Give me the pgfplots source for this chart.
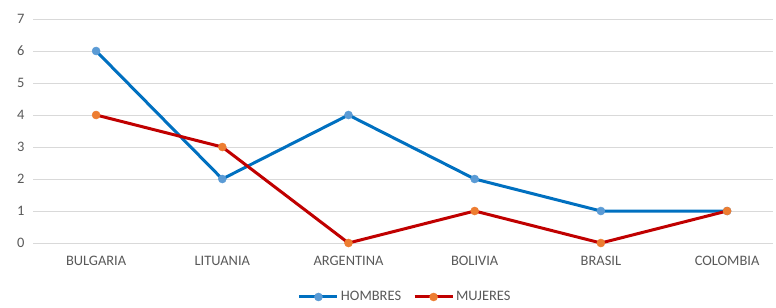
\documentclass[border=0pt]{standalone}
\usepackage{fontspec}
\setmainfont{Carlito}
\usepackage{pgfplots}
\pgfplotsset{compat=1.18}
\definecolor{hline}{HTML}{0070C0}
\definecolor{hmark}{HTML}{5B9BD5}
\definecolor{mline}{HTML}{C00000}
\definecolor{mmark}{HTML}{ED7D31}
\definecolor{txt}{HTML}{595959}
\definecolor{grd}{HTML}{D9D9D9}
\begin{document}
\begin{tikzpicture}[x=1bp,y=1bp]
\path[use as bounding box] (0,0) rectangle (776,307);
\begin{axis}[
  at={(33bp,64bp)}, anchor=south west,
  scale only axis, width=740bp, height=224bp,
  xmin=-0.5, xmax=5.364, ymin=0, ymax=7,
  xtick={0,1,2,3,4,5},
  xticklabels={BULGARIA,LITUANIA,ARGENTINA,BOLIVIA,BRASIL,COLOMBIA},
  ytick={0,1,...,7},
  ymajorgrids, grid style={grd, line width=0.9bp},
  axis line style={draw=none},
  major tick length=0pt,
  tick label style={font=\fontsize{14.5}{16}\selectfont, text=txt},
  /pgf/number format/assume math mode=true,
  xticklabel style={yshift=-10bp},
  yticklabel style={xshift=-5bp},
  legend style={at={(0.503,-0.241)}, anchor=center, draw=none, fill=none,
    font=\fontsize{14.5}{16}\selectfont, text=txt, legend columns=2,
    /tikz/every even column/.append style={column sep=10bp},
    inner sep=0pt},
  legend cell align=left,
  legend image code/.code={
    \draw[#1, mark=none] (0bp,0bp) -- (38bp,0bp);
    \draw[#1, draw=none] plot coordinates {(19bp,0bp)};
  },
]
\addplot[hline, line width=3bp, mark=*, mark size=4bp, mark options={solid, fill=hmark, draw=hmark, line width=0.5bp}]
  coordinates {(0,6) (1,2) (2,4) (3,2) (4,1) (5,1)};
\addlegendentry{HOMBRES}
\addplot[mline, line width=3bp, mark=*, mark size=4bp, mark options={solid, fill=mmark, draw=mmark, line width=0.5bp}]
  coordinates {(0,4) (1,3) (2,0) (3,1) (4,0) (5,1)};
\addlegendentry{MUJERES}
\end{axis}
\end{tikzpicture}
\end{document}
